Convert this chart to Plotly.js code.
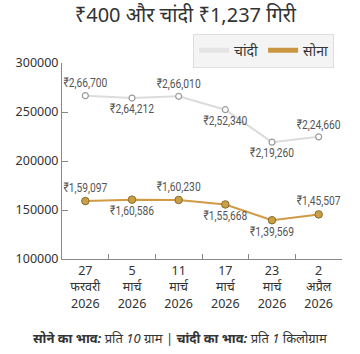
<!DOCTYPE html>
<html>
<head>
<meta charset="utf-8">
<script src="https://cdn.plot.ly/plotly-3.0.1.min.js"></script>
<style>
html,body{margin:0;padding:0;background:#fff;}
#chart{width:360px;height:354px;}
#chart .textpoint text{transform-box:fill-box;transform-origin:center;transform:scaleX(0.76);}
</style>
</head>
<body>
<div id="chart"></div>
<script>
const categories = ["27<br>फरवरी<br>2026", "5<br>मार्च<br>2026", "11<br>मार्च<br>2026", "17<br>मार्च<br>2026", "23<br>मार्च<br>2026", "2<br>अप्रैल<br>2026"];
const silver = [266700, 264212, 266010, 252340, 219260, 224660];
const gold = [159097, 160586, 160230, 155668, 139569, 145507];
const silverLabels = ["₹2,66,700", "₹2,64,212", "₹2,66,010", "₹2,52,340", "₹2,19,260", "₹2,24,660"];
const goldLabels = ["₹1,59,097", "₹1,60,586", "₹1,60,230", "₹1,55,668", "₹1,39,569", "₹1,45,507"];
const silverPos = ["top center", "bottom center", "top center", "bottom center", "bottom center", "top center"];
const goldPos = ["top center", "bottom center", "top center", "bottom center", "bottom center", "top center"];
const seriesNames = ["चांदी", "सोना"];

const labelFont = {family: "Roboto, sans-serif", size: 13.5, color: "#555"};

const traces = [
  {
    x: categories, y: silver, name: seriesNames[0], type: "scatter", mode: "lines+markers+text",
    text: silverLabels, textposition: silverPos, textfont: labelFont, showlegend: false,
    line: {color: "#dcdcdc", width: 2},
    marker: {size: 6, color: "#ffffff", line: {color: "#9a9a9a", width: 1.2}},
    hoverinfo: "none"
  },
  {
    x: categories, y: gold, name: seriesNames[1], type: "scatter", mode: "lines+markers+text",
    text: goldLabels, textposition: goldPos, textfont: labelFont, showlegend: false,
    line: {color: "#d19a45", width: 2},
    marker: {size: 7.5, color: "#c9a045", line: {color: "#8a6a2a", width: 1}},
    hoverinfo: "none"
  },
  {
    x: [null], y: [null], name: seriesNames[0], type: "scatter", mode: "lines",
    line: {color: "#e4e4e4", width: 5}, hoverinfo: "none"
  },
  {
    x: [null], y: [null], name: seriesNames[1], type: "scatter", mode: "lines",
    line: {color: "#c9973f", width: 5}, hoverinfo: "none"
  }
];

const layout = {
  width: 360, height: 354,
  margin: {l: 62, r: 18, t: 63, b: 95},
  paper_bgcolor: "#fff", plot_bgcolor: "#fff",
  font: {family: "Noto Sans, Roboto, sans-serif", color: "#333"},
  title: {
    text: "₹400 और चांदी ₹1,237 गिरी",
    font: {size: 20, color: "#333", family: "Noto Sans, sans-serif"},
    x: 0.515, xanchor: "center", yref: "container", y: 0.958, yanchor: "middle"
  },
  showlegend: true,
  legend: {
    orientation: "h", x: 0.72, xanchor: "center", y: 1.15, yanchor: "top",
    bgcolor: "#f4f4f4", bordercolor: "#dddddd", borderwidth: 1,
    font: {size: 14, color: "#333"}, traceorder: "normal", itemwidth: 30
  },
  xaxis: {
    type: "category", range: [-0.5, 5.5], showgrid: false, zeroline: false,
    showline: true, linecolor: "#888", linewidth: 1,
    ticks: "inside", ticklen: 5, tickcolor: "#888", tickson: "boundaries",
    tickfont: {size: 12.5, color: "#333"}, fixedrange: true
  },
  yaxis: {
    range: [100000, 300000], tickvals: [100000, 150000, 200000, 250000, 300000],
    ticktext: ["100000", "150000", "200000", "250000", "300000"],
    showgrid: false, zeroline: false, showline: true, linecolor: "#888", linewidth: 1,
    ticks: "inside", ticklen: 6, tickcolor: "#888",
    tickfont: {size: 12.5, color: "#333"}, fixedrange: true
  },
  annotations: [{
    xref: "paper", yref: "paper", x: 0.42, y: -0.405, xanchor: "center", yanchor: "middle",
    showarrow: false,
    text: "<b><i>सोने का भाव:</i></b><i> प्रति 10 ग्राम | </i><b><i>चांदी का भाव:</i></b><i> प्रति 1 किलोग्राम</i>",
    font: {size: 13, color: "#333"}
  }]
};

Plotly.newPlot("chart", traces, layout, {displayModeBar: false, staticPlot: true});
</script>
</body>
</html>
